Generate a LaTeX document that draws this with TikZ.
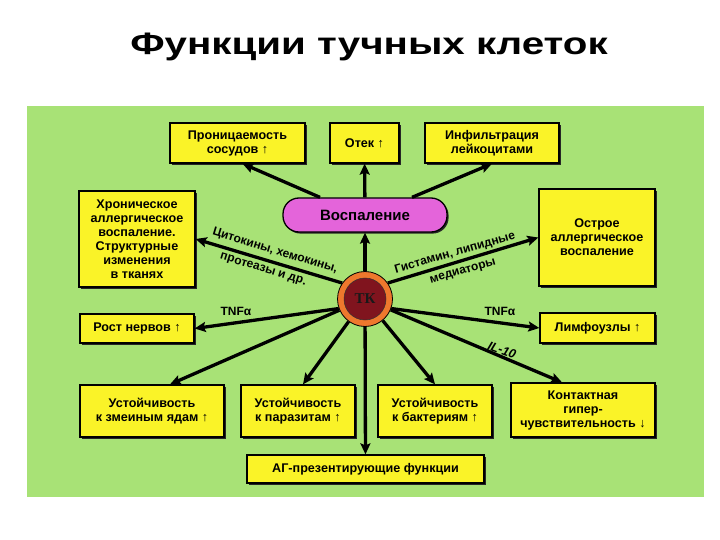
\documentclass[tikz,border=0pt]{standalone}
\usepackage{fontspec}
\setmainfont{Liberation Sans}
\newfontfamily\titlefont{Liberation Sans}[FakeStretch=1.3]
\newfontfamily\tkfont{Liberation Serif}
\usetikzlibrary{arrows.meta,shadows}
\definecolor{bggreen}{RGB}{168,226,118}
\definecolor{boxyellow}{RGB}{250,243,40}
\definecolor{pillmag}{RGB}{228,100,218}
\definecolor{tkorange}{RGB}{238,120,45}
\definecolor{tkred}{RGB}{128,20,30}
\begin{document}
\begin{tikzpicture}[x=1pt,y=-1pt,
  box/.style={draw=black, line width=1.3pt, fill=boxyellow, align=center, inner sep=1pt,
    font=\bfseries\fontsize{12.6}{14}\selectfont,
    general shadow={fill=black!85, shadow xshift=1.6pt, shadow yshift=-1.6pt}},
  arr/.style={line width=3.3pt, -{Stealth[length=11pt,width=10pt,inset=2pt]}},
  lbl/.style={font=\bfseries\fontsize{12}{13}\selectfont, inner sep=0pt}]
\useasboundingbox (0,0) rectangle (720,540);
\fill[white] (0,0) rectangle (720,540);
\node[font=\titlefont\bfseries\fontsize{31}{34}\selectfont] (title) at (369,47) {Функции тучных клеток};
\fill[bggreen] (27,106) rectangle (704,497);

\node[box, minimum width=135, minimum height=40] (prn) at (237.5,143) {Проницаемость\\сосудов ↑};
\node[box, minimum width=69, minimum height=40] (otek) at (364.5,143) {Отек ↑};
\node[box, minimum width=134, minimum height=40] (inf) at (492,143) {Инфильтрация\\лейкоцитами};
\node[box, minimum width=116, minimum height=96] (chr) at (137,239) {Хроническое\\аллергическое\\воспаление.\\Структурные\\изменения\\в тканях};
\node[draw=black, line width=1.3pt, fill=pillmag, rounded corners=16pt, minimum width=164, minimum height=34,
  font=\bfseries\fontsize{15}{16}\selectfont,
  general shadow={fill=black!85, shadow xshift=1.6pt, shadow yshift=-1.6pt}] (pill) at (365,215) {Воспаление};
\node[box, minimum width=116, minimum height=97] (ostr) at (597,237.5) {Острое\\аллергическое\\воспаление};
\node[box, minimum width=114, minimum height=29] (rost) at (137,328.5) {Рост нервов ↑};
\node[box, minimum width=115, minimum height=30] (limf) at (597.5,328) {Лимфоузлы ↑};
\node[box, minimum width=144, minimum height=52] (snake) at (152,411) {Устойчивость\\к змеиным ядам ↑};
\node[box, minimum width=114, minimum height=52] (paras) at (298,411) {Устойчивость\\к паразитам ↑};
\node[box, minimum width=114, minimum height=52] (bact) at (435,411) {Устойчивость\\к бактериям ↑};
\node[box, minimum width=144, minimum height=54] (cont) at (583,410) {Контактная\\гипер-\\чувствительность ↓};
\node[box, minimum width=237, minimum height=28] (ag) at (365.5,469) {АГ-презентирующие функции};

\node[circle, draw=black, line width=0.8pt, fill=tkorange, minimum size=55pt, inner sep=0pt] (tk) at (365,299) {};
\node[circle, draw=black!80, line width=0.5pt, fill=tkred, minimum size=42pt, inner sep=0pt,
  font=\tkfont\bfseries\fontsize{15}{15}\selectfont, text=black!90] (tkin) at (tk.center) {ТК};

\draw[arr] (tk) -- (pill);
\draw[arr] (pill) -- (otek);
\draw[arr] ([xshift=-45pt]pill.north) -- ([xshift=5pt]prn.south);
\draw[arr] ([xshift=47pt]pill.north) -- (inf.south);
\draw[arr] (tk.145) -- (chr.east);
\draw[arr] (tk.35) -- (ostr.west);
\draw[arr] (tk.200) -- (rost.east);
\draw[arr] (tk.340) -- (limf.west);
\draw[arr] (tk) -- ([xshift=18pt]snake.north);
\draw[arr] (tk) -- ([xshift=5pt]paras.north);
\draw[arr] (tk) -- (bact.north);
\draw[arr] (tk) -- ([xshift=-21pt]cont.north);
\draw[arr] (tk) -- (ag);

\node[lbl, rotate=-17] (l1) at (275,251) {Цитокины, хемокины,};
\node[lbl, rotate=-17] (l2) at (263,270) {протеазы и др.};
\node[lbl, rotate=16] (l3) at (455,253) {Гистамин, липидные};
\node[lbl, rotate=16] (l4) at (463,272) {медиаторы};
\node[lbl] (l5) at (236,311) {TNFα};
\node[lbl] (l6) at (500,311) {TNFα};
\node[lbl, rotate=-20, font=\bfseries\itshape\fontsize{12.5}{13}\selectfont] (l7) at (502,350) {IL-10};
\end{tikzpicture}
\end{document}
